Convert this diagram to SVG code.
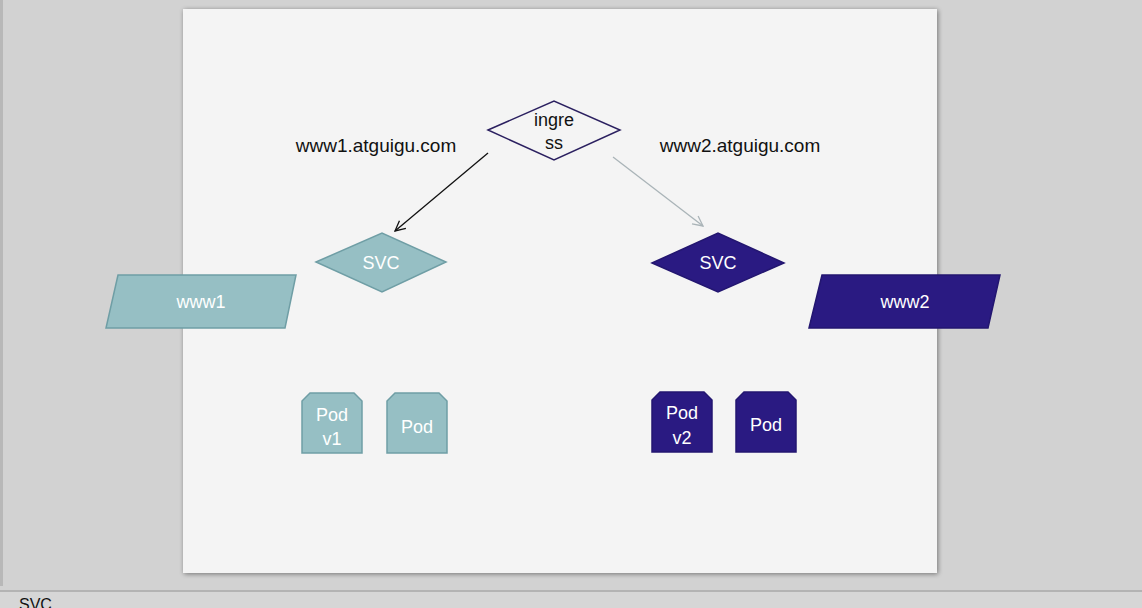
<svg xmlns="http://www.w3.org/2000/svg" width="1142" height="608" viewBox="0 0 1142 608">
<defs>
<style>
.lbl{font-family:"Liberation Sans",Arial,sans-serif;text-anchor:middle}
.w{fill:#ffffff;font-size:18px}
.k{fill:#111111}
.teal{fill:#96bfc4;stroke:#6f9ea5;stroke-width:1.5}
.ind{fill:#2a1a82;stroke:#231670;stroke-width:1.5}
</style>
<marker id="ah" viewBox="0 0 12 12" refX="11" refY="6" markerWidth="12" markerHeight="12" markerUnits="userSpaceOnUse" orient="auto">
<path d="M1,1 L11,6 L1,11" fill="none" stroke="#111" stroke-width="1.3"/>
</marker>
<marker id="ahg" viewBox="0 0 12 12" refX="11" refY="6" markerWidth="12" markerHeight="12" markerUnits="userSpaceOnUse" orient="auto">
<path d="M1,1 L11,6 L1,11" fill="none" stroke="#aab4b8" stroke-width="1.3"/>
</marker>
<filter id="sh" x="-5%" y="-5%" width="110%" height="110%">
<feGaussianBlur in="SourceAlpha" stdDeviation="2.5"/>
<feOffset dx="1" dy="1"/>
<feComponentTransfer><feFuncA type="linear" slope="0.45"/></feComponentTransfer>
<feMerge><feMergeNode/><feMergeNode in="SourceGraphic"/></feMerge>
</filter>
</defs>
<rect x="0" y="0" width="1142" height="608" fill="#d2d2d2"/>
<rect x="0" y="0" width="3" height="586" fill="#b8b8b8"/>
<line x1="0" y1="591" x2="1142" y2="591" stroke="#a9a9a9" stroke-width="1.5"/>
<rect x="0" y="592" width="1142" height="16" fill="#d6d6d6"/>
<text x="19" y="610" font-family="'Liberation Sans',Arial,sans-serif" font-size="16" fill="#111">SVC</text>
<rect x="183" y="9" width="754" height="564" fill="#f4f4f4" filter="url(#sh)"/>

<g id="connectors">
<line x1="488" y1="153" x2="395" y2="231" stroke="#111" stroke-width="1.3" marker-end="url(#ah)"/>
<line x1="613" y1="157" x2="703" y2="226" stroke="#aab4b8" stroke-width="1.3" marker-end="url(#ahg)"/>
</g>

<g id="label-www1">
<text class="lbl k" x="376" y="152" font-size="19">www1.atguigu.com</text>
</g>
<g id="label-www2">
<text class="lbl k" x="740" y="152" font-size="19">www2.atguigu.com</text>
</g>

<g id="ingress">
<polygon points="488,130 554,101 620,130 554,160" fill="#f4f4f4" stroke="#2b2060" stroke-width="1.5"/>
<text class="lbl k" x="554" y="126" font-size="18">ingre</text>
<text class="lbl k" x="554" y="149" font-size="18">ss</text>
</g>

<g id="svc1">
<polygon class="teal" points="316,262 382,233 446,262 382,292"/>
<text class="lbl w" x="381" y="269">SVC</text>
</g>
<g id="svc2">
<polygon class="ind" points="652,263 718,233 784,263 718,292"/>
<text class="lbl w" x="718" y="269">SVC</text>
</g>

<g id="www1">
<polygon class="teal" points="118,275 296,275 285,328 106,328"/>
<text class="lbl w" x="201" y="308">www1</text>
</g>
<g id="www2">
<polygon class="ind" points="822,275 1000,275 988,328 809,328"/>
<text class="lbl w" x="905" y="308">www2</text>
</g>

<g id="pod-v1">
<polygon class="teal" points="310,393 354,393 362,401 362,453 302,453 302,401"/>
<text class="lbl w" x="332" y="421">Pod</text>
<text class="lbl w" x="332" y="445">v1</text>
</g>
<g id="pod-1b">
<polygon class="teal" points="395,393 439,393 447,401 447,453 387,453 387,401"/>
<text class="lbl w" x="417" y="433">Pod</text>
</g>
<g id="pod-v2">
<polygon class="ind" points="660,392 704,392 712,400 712,452 652,452 652,400"/>
<text class="lbl w" x="682" y="419">Pod</text>
<text class="lbl w" x="682" y="444">v2</text>
</g>
<g id="pod-2b">
<polygon class="ind" points="744,392 788,392 796,400 796,452 736,452 736,400"/>
<text class="lbl w" x="766" y="431">Pod</text>
</g>
</svg>
